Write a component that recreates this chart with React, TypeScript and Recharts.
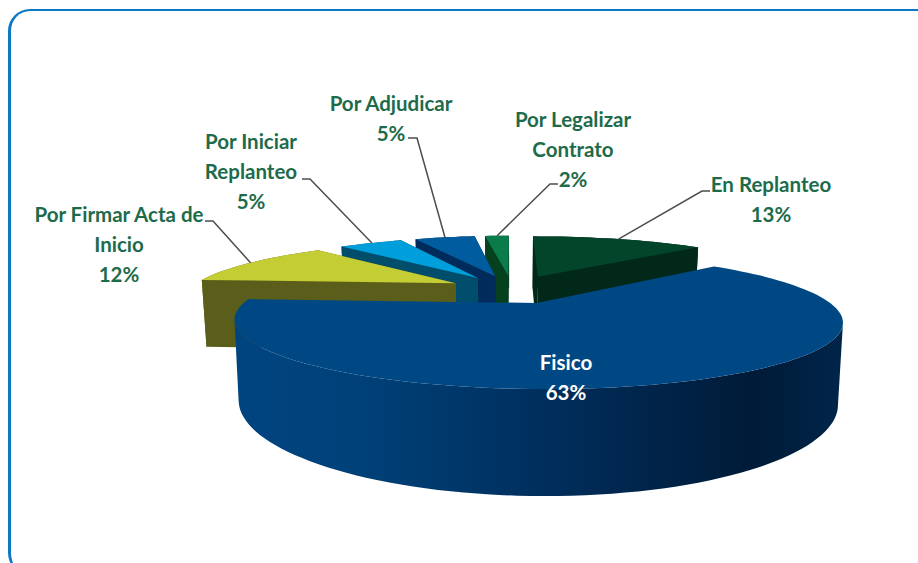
import React from "react";
import { PieChart, Pie } from "recharts";

// Painted back to front, counter-clockwise from the edge shared by the first and last slice.
const categories = ["En Replanteo", "Por Legalizar Contrato", "Por Adjudicar", "Por Iniciar Replanteo", "Por Firmar Acta de Inicio", "Fisico"];
const shares = [13, 2, 5, 5, 12, 63];
const labelLines = [["En Replanteo"], ["Por Legalizar", "Contrato"], ["Por Adjudicar"], ["Por Iniciar", "Replanteo"], ["Por Firmar Acta de", "Inicio"], ["Fisico"]];
const topColors = ["#03452a", "#0a7c4b", "#005c9e", "#009fdc", "#c5cd34", "#004884"];
const sideColors = ["#02281a", "#05401f", "#002b5a", "#004e6c", "#5b5e1a", "url(#fisicoWall)"];

const labelCenters = [[771, 184], [573, 119], [391, 103], [251, 141], [119, 214], [566, 362]];
const leaderBends = [[[702, 191], [710, 191]], [[550, 184], [558, 184]], [[417, 138], [408, 138]], [[310, 179], [302, 179]], [[213, 221], [205, 221]], []];

const rows = categories.map((name, i) => ({ name, value: shares[i] }));

const EXPLODE = 0.25;
const KX = 0.25;
const KY = 0.25;
const Y_RATIO = 56 / 276;
const DEPTH = 70;
const KD = 0.28;
const BASE_SHRINK = 0.985;
const BACK_LEFT_LEAN = 14;

type P = [number, number];

function project(cx: number, cy: number, r: number, u: number, v: number): P {
  const lean = v > 0 && u < 0 ? BACK_LEFT_LEAN * Math.min(1, -u / 0.7) : 0;
  return [cx + lean + (r * u) / (1 + KX * v), cy - (r * Y_RATIO * v) / (1 + KY * v)];
}

function rimPoint(cx: number, cy: number, r: number, mid: number, angle: number, rho = 1): { p: P; v: number } {
  const ra = (Math.PI / 180) * (90 - mid);
  const rb = (Math.PI / 180) * (90 - angle);
  const u = EXPLODE * Math.sin(ra) + rho * Math.sin(rb);
  const v = EXPLODE * Math.cos(ra) + rho * Math.cos(rb);
  return { p: project(cx, cy, r, u, v), v };
}

function lower(cx: number, pt: { p: P; v: number }): P {
  return [cx + (pt.p[0] - cx) * BASE_SHRINK, pt.p[1] + DEPTH / (1 + KD * pt.v)];
}

const toPath = (pts: P[]) => "M" + pts.map((q) => `${q[0].toFixed(1)},${q[1].toFixed(1)}`).join("L") + "Z";

function Slice3D(props: any) {
  const { cx, cy, outerRadius, startAngle, endAngle, midAngle, index } = props;
  const a0 = Math.min(startAngle, endAngle);
  const a1 = Math.max(startAngle, endAngle);
  const steps = Math.max(4, Math.ceil((a1 - a0) / 2));
  const rim = [];
  for (let i = 0; i <= steps; i++) {
    rim.push(rimPoint(cx, cy, outerRadius, midAngle, a0 + ((a1 - a0) * i) / steps));
  }
  let iMin = 0;
  let iMax = 0;
  rim.forEach((q, i) => {
    if (q.p[0] < rim[iMin].p[0]) iMin = i;
    if (q.p[0] > rim[iMax].p[0]) iMax = i;
  });
  const front = rim.slice(Math.min(iMin, iMax), Math.max(iMin, iMax) + 1);
  const apex = rimPoint(cx, cy, outerRadius, midAngle, midAngle, 0);
  const apexLow = lower(cx, apex);
  const first = rim[0];
  const last = rim[rim.length - 1];
  const topPath = toPath([apex.p, ...rim.map((q) => q.p)]);
  const wallPath = toPath([...front.map((q) => q.p), ...front.map((q) => lower(cx, q)).reverse()]);
  const faceA = toPath([apex.p, first.p, lower(cx, first), apexLow]);
  const faceB = toPath([apex.p, last.p, lower(cx, last), apexLow]);
  const top = topColors[index];
  const side = sideColors[index];
  const isMain = index === categories.length - 1;
  return (
    <g>
      {isMain ? (
        <defs>
          <linearGradient id="fisicoWall" x1="0" y1="0" x2="1" y2="0">
            <stop offset="0" stopColor="#004480" />
            <stop offset="0.2" stopColor="#004179" />
            <stop offset="0.5" stopColor="#002f5e" />
            <stop offset="0.85" stopColor="#001b38" />
            <stop offset="1" stopColor="#00254a" />
          </linearGradient>
        </defs>
      ) : null}
      {isMain ? null : <path d={faceA} fill={side} />}
      {isMain ? null : <path d={faceB} fill={side} />}
      <path d={wallPath} fill={side} />
      <path d={topPath} fill={top} />
    </g>
  );
}

function SliceLabel(props: any) {
  const { cx, cy, outerRadius, midAngle, index, value } = props;
  const [tx, ty] = labelCenters[index];
  const lines = [...labelLines[index], `${value}%`];
  const isMain = index === categories.length - 1;
  const start = rimPoint(cx, cy, outerRadius, midAngle, midAngle).p;
  const bends = leaderBends[index];
  return (
    <g>
      {bends.length ? (
        <polyline
          points={[start, ...bends].map((q) => q.join(",")).join(" ")}
          fill="none"
          stroke="#4d4d4d"
          strokeWidth={1.5}
        />
      ) : null}
      <text
        x={tx}
        y={ty}
        textAnchor="middle"
        fontFamily="Lato, sans-serif"
        fontWeight={700}
        fontSize={20.5}
        fill={isMain ? "#ffffff" : "#1d6b4a"}
      >
        {lines.map((line, i) => (
          <tspan key={i} x={tx} y={ty + i * 30} dominantBaseline="central">
            {line}
          </tspan>
        ))}
      </text>
    </g>
  );
}

export default function App() {
  return (
    <div style={{ position: "fixed", left: 0, top: 0, width: 918, height: 563, overflow: "hidden", background: "#fff" }}>
      <div
        style={{
          position: "absolute",
          left: 8,
          top: 9,
          width: 980,
          height: 566,
          boxSizing: "border-box",
          borderStyle: "solid",
          borderColor: "#0f78c4",
          borderWidth: "2px 0 0 3px",
          borderRadius: 22,
        }}
      />
      <div style={{ position: "absolute", left: 0, top: 0 }}>
        <PieChart width={918} height={563} margin={{ top: 0, right: 0, bottom: 0, left: 0 }}>
          <Pie
            data={rows}
            dataKey="value"
            nameKey="name"
            cx={512}
            cy={289}
            innerRadius={0}
            outerRadius={276}
            startAngle={43.2}
            endAngle={403.2}
            stroke="none"
            isAnimationActive={false}
            shape={Slice3D}
            label={SliceLabel}
            labelLine={false}
          />
        </PieChart>
      </div>
    </div>
  );
}
